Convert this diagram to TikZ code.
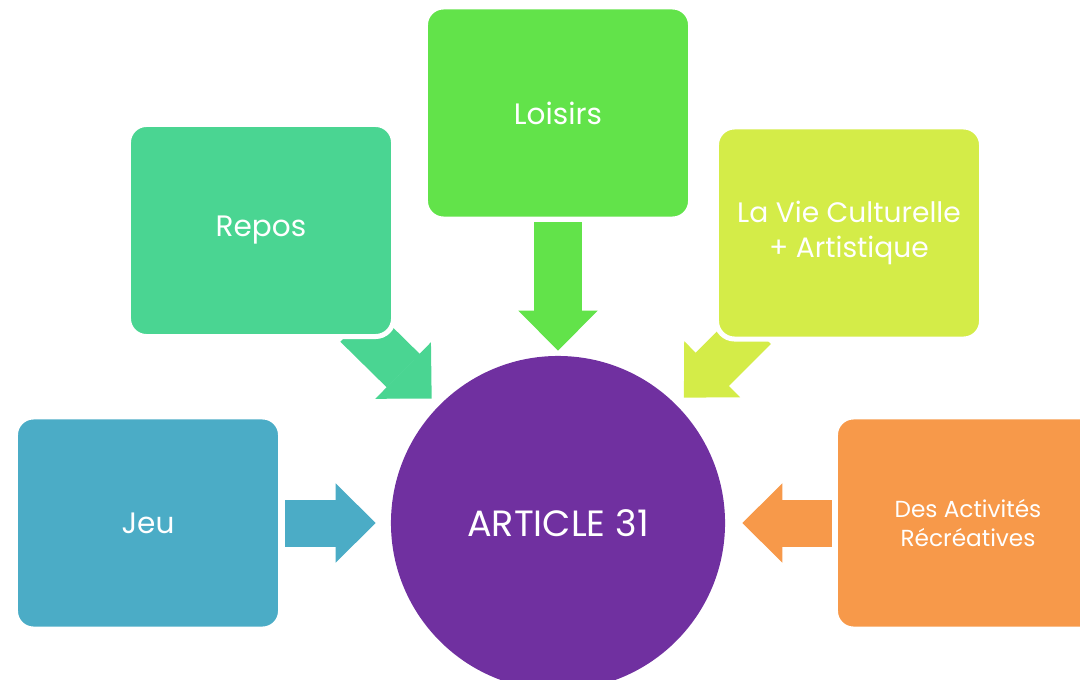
\documentclass[tikz,border=0pt]{standalone}
\usepackage{fontspec}
\setmainfont{Poppins}
\usetikzlibrary{arrows.meta,backgrounds}
\definecolor{artpurple}{HTML}{7030A0}
\definecolor{loisirsgreen}{HTML}{62E34A}
\definecolor{repostea}{HTML}{4AD592}
\definecolor{culturelime}{HTML}{D4EC48}
\definecolor{jeublue}{HTML}{4BACC6}
\definecolor{activorange}{HTML}{F7994A}
\tikzset{
  card/.style={draw=white,line width=0.125cm,rounded corners=0.45cm,align=center,
               minimum width=6.625cm,minimum height=5.3cm,text=white,
               font=\fontsize{21}{25}\selectfont},
  hub/.style={circle,inner sep=0pt,minimum size=8.35cm,fill=artpurple,text=white,
              font=\fontsize{26}{30}\selectfont},
  fat/.style={line width=1.175cm,draw=#1,
              -{Triangle[width=1.975cm,length=1cm,line width=1pt]}}
}
\begin{document}
\begin{tikzpicture}[x=0.025cm,y=-0.025cm]
  \useasboundingbox (0,0) rectangle (1080,679);
  \clip (0,0) rectangle (1080,679);
  \node[hub] (art) at (558,523) {ARTICLE 31};
  \node[card,fill=loisirsgreen] (loisirs) at (558,113) {Loisirs};
  \node[card,fill=repostea] (repos) at (261,230.5) {Repos};
  \node[card,fill=culturelime,font=\fontsize{20}{25}\selectfont] (culture) at (849,233) {La Vie Culturelle\\+ Artistique};
  \node[card,fill=jeublue] (jeu) at (148,523) {Jeu};
  \node[card,fill=activorange,font=\fontsize{16.5}{20}\selectfont] (activ) at (968,523) {Des Activités\\Récréatives};

  \begin{scope}[on background layer]
    \draw[fat=loisirsgreen,shorten <=0.02cm,shorten >=0.125cm] (loisirs) -- (art);
    \draw[fat=repostea,shorten <=-0.5cm,shorten >=0.25cm] (repos) -- (art);
    \draw[fat=culturelime,shorten <=-0.5cm,shorten >=0.26cm] (culture) -- (art);
    \draw[fat=jeublue,shorten <=0.05cm,shorten >=0.375cm] (jeu) -- (art);
    \draw[fat=activorange,shorten <=0.03cm,shorten >=0.425cm] (activ) -- (art);
  \end{scope}
\end{tikzpicture}
\end{document}
